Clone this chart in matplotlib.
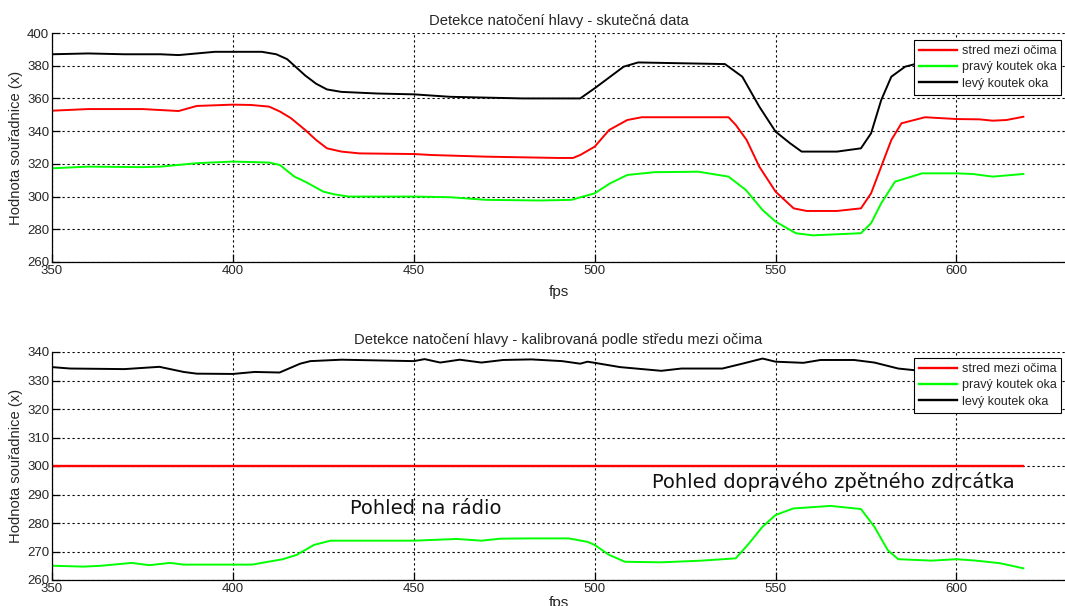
"""
Detekce natočení hlavy - two panels in MATLAB style.
"""
import matplotlib
matplotlib.use("Agg")
import matplotlib.pyplot as plt

# --- panel 1: raw data -------------------------------------------------
stred_x = [350, 360, 375, 385, 390, 400, 405, 410, 413, 416, 420, 423, 426, 430, 435,
           450, 455, 470, 490, 494, 496, 500, 504, 509, 513, 537, 539, 542, 545.5, 550,
           555, 558.6, 567, 573.6, 576.4, 579.2, 582, 584.8, 591.3, 600, 606.4, 610, 613.8, 618.5]
stred_y = [352.5, 353.5, 353.5, 352.3, 355.4, 356.2, 356, 355, 352, 348, 340.7, 334.6, 329.5, 327.5, 326.4,
           326, 325.4, 324.4, 323.6, 323.6, 325.4, 330.5, 340.7, 346.8, 348.5, 348.5, 343.8, 334.6, 318.3, 303,
           292.8, 291.2, 291.2, 292.8, 302, 318.3, 334.6, 344.8, 348.5, 347.4, 347.2, 346.4, 346.8, 348.8]

pravy_x = [350, 360, 375, 380, 390, 400, 410, 413, 417, 420, 425, 428, 432, 450, 460, 470, 485,
           493.6, 500, 504.2, 509, 516.5, 528.7, 537, 541.8, 546.4, 550, 555.6, 560.3, 573.6,
           576.4, 579.2, 583, 590.5, 600, 604.5, 610, 618.5]
pravy_y = [317.3, 318.3, 318, 318.3, 320.4, 321.4, 320.8, 319.3, 312.2, 309.1, 303, 301.4, 300, 300, 299.6, 298, 297.6,
           298, 302, 308, 313.2, 314.9, 315.2, 312.2, 304, 291.8, 284.7, 277.6, 276.3, 277.6,
           283.7, 295.9, 309.1, 314.2, 314.2, 313.8, 312.2, 313.8]

levy_x = [350, 360, 370, 380, 385, 390, 395, 400, 408, 412, 415, 418, 420, 423, 426, 430, 440,
          450, 460, 470, 480, 496, 500, 508, 512, 536, 540.8, 545.5, 550, 554, 557.2, 567,
          573.6, 576.4, 579.2, 582, 585.8, 588.6, 600, 610, 618.5]
levy_y = [387, 387.5, 387, 387, 386.5, 387.5, 388.5, 388.5, 388.5, 387, 384, 378, 374, 369, 365.5, 364, 363,
          362.5, 361, 360.5, 360, 360, 366.2, 379.4, 382, 381, 373.3, 355, 339.7, 332.6, 327.5, 327.5,
          329.5, 338.7, 359, 373.3, 379.4, 381, 382, 382, 382]

# --- panel 2: calibrated by eye centre ---------------------------------
kal_stred_x = [350, 618.5]
kal_stred_y = [300, 300]

kal_pravy_x = [350, 358.9, 363.6, 372, 376.9, 382.6, 386.4, 400, 405.3, 408, 413.8, 417.6, 422.4,
               427, 450, 461.9, 468.7, 473.9, 482.5, 492.8, 498, 500, 504, 508.4, 518.4, 529.6,
               539, 542.7, 546.4, 550, 554.9, 565.2, 573.6, 577.3, 581, 583.9, 593.2, 600, 605.4,
               612, 618.5]
kal_pravy_y = [265, 264.7, 265, 266, 265.2, 266, 265.4, 265.4, 265.4, 266, 267.3, 268.8, 272.3,
               273.8, 273.8, 274.4, 273.8, 274.5, 274.6, 274.6, 273.4, 272.3, 268.8, 266.4, 266.2, 266.8,
               267.6, 272.9, 278.7, 282.8, 285.1, 286, 284.9, 278.7, 270.5, 267.3, 266.8, 267.3, 266.8,
               265.9, 264.1]

kal_levy_x = [350, 355, 370, 379.7, 386.4, 390, 400, 406, 412.9, 418.6, 421.4, 430, 450, 453,
              457.3, 462.7, 468.7, 474.7, 482.5, 491, 496, 498, 500, 507, 518.4, 524, 535.3,
              540.8, 546.4, 550, 557.7, 562.4, 571.7, 577.3, 583.9, 588.5, 600, 610, 618.5]
kal_levy_y = [334.7, 334.2, 334, 334.8, 333, 332.4, 332.3, 333, 332.8, 335.9, 336.8, 337.3, 336.8, 337.5,
              336.3, 337.3, 336.3, 337.2, 337.4, 336.8, 335.9, 336.6, 336.2, 334.7, 333.4, 334.2, 334.2,
              335.9, 337.7, 336.6, 336.2, 337.2, 337.2, 336.3, 334.2, 333.6, 333, 333, 333]

labels = ["stred mezi očima", "pravý koutek oka", "levý koutek oka"]
colors = ["#ff0000", "#00ff00", "#000000"]

plt.rcParams["font.family"] = ["Liberation Sans", "DejaVu Sans"]
txt = "#262626"

fig = plt.figure(figsize=(10.65, 6.06), dpi=100)
ax1 = fig.add_axes([52 / 1065, 1 - 262 / 606, 1 - 52 / 1065, 229 / 606])
ax2 = fig.add_axes([52 / 1065, 1 - 580 / 606, 1 - 52 / 1065, 228 / 606])


def style(ax, ylim, ystep, title, xpad):
    ax.set_xlim(350, 630)
    ax.set_ylim(*ylim)
    ax.set_xticks(range(350, 601, 50))
    ax.set_yticks(range(ylim[0], ylim[1] + 1, ystep))
    ax.grid(True, color="black", linestyle=(0, (2, 2.5)), linewidth=0.8)
    ax.spines["top"].set_visible(False)
    ax.spines["right"].set_visible(False)
    ax.spines["left"].set_linewidth(0.9)
    ax.spines["bottom"].set_linewidth(0.9)
    ax.tick_params(direction="in", length=6, width=0.9, labelsize=9.5,
                   colors="black", labelcolor=txt, pad=2)
    ax.set_title(title, fontsize=10.6, color=txt, pad=6)
    ax.set_xlabel("fps", fontsize=11, color=txt, labelpad=xpad)
    ax.set_ylabel("Hodnota souřadnice (x)", fontsize=10.6, color=txt, labelpad=3)
    ax.set_axisbelow(True)


style(ax1, (260, 400), 20, "Detekce natočení hlavy - skutečná data", 6)
ax1.plot(stred_x, stred_y, color=colors[0], lw=1.4, label=labels[0])
ax1.plot(pravy_x, pravy_y, color=colors[1], lw=1.4, label=labels[1])
ax1.plot(levy_x, levy_y, color=colors[2], lw=1.4, label=labels[2])

style(ax2, (260, 340), 10, "Detekce natočení hlavy - kalibrovaná podle středu mezi očima", 1)
ax2.plot(kal_stred_x, kal_stred_y, color=colors[0], lw=1.7, label=labels[0])
ax2.plot(kal_pravy_x, kal_pravy_y, color=colors[1], lw=1.4, label=labels[1])
ax2.plot(kal_levy_x, kal_levy_y, color=colors[2], lw=1.4, label=labels[2])

ax2.text(432.5, 285.2, "Pohled na rádio", fontsize=14, family="DejaVu Sans",
         va="center", ha="left", color="#111111")
ax2.text(515.9, 294.3, "Pohled dopravého zpětného zdrcátka", fontsize=14,
         family="DejaVu Sans", va="center", ha="left", color="#111111")

for ax, top in ((ax1, 40), (ax2, 358)):
    leg = ax.legend(loc="upper left", bbox_to_anchor=(914 / 1065, 1 - top / 606),
                    bbox_transform=fig.transFigure, fontsize=9, frameon=True,
                    fancybox=False, edgecolor="black", framealpha=1,
                    borderaxespad=0, handlelength=3.0, handletextpad=0.4,
                    labelspacing=0.35, borderpad=0.4)
    leg.get_frame().set_linewidth(0.8)
    for t in leg.get_texts():
        t.set_color(txt)
    for h in leg.get_lines():
        h.set_linewidth(1.7)

fig.savefig("out.png", dpi=100)
